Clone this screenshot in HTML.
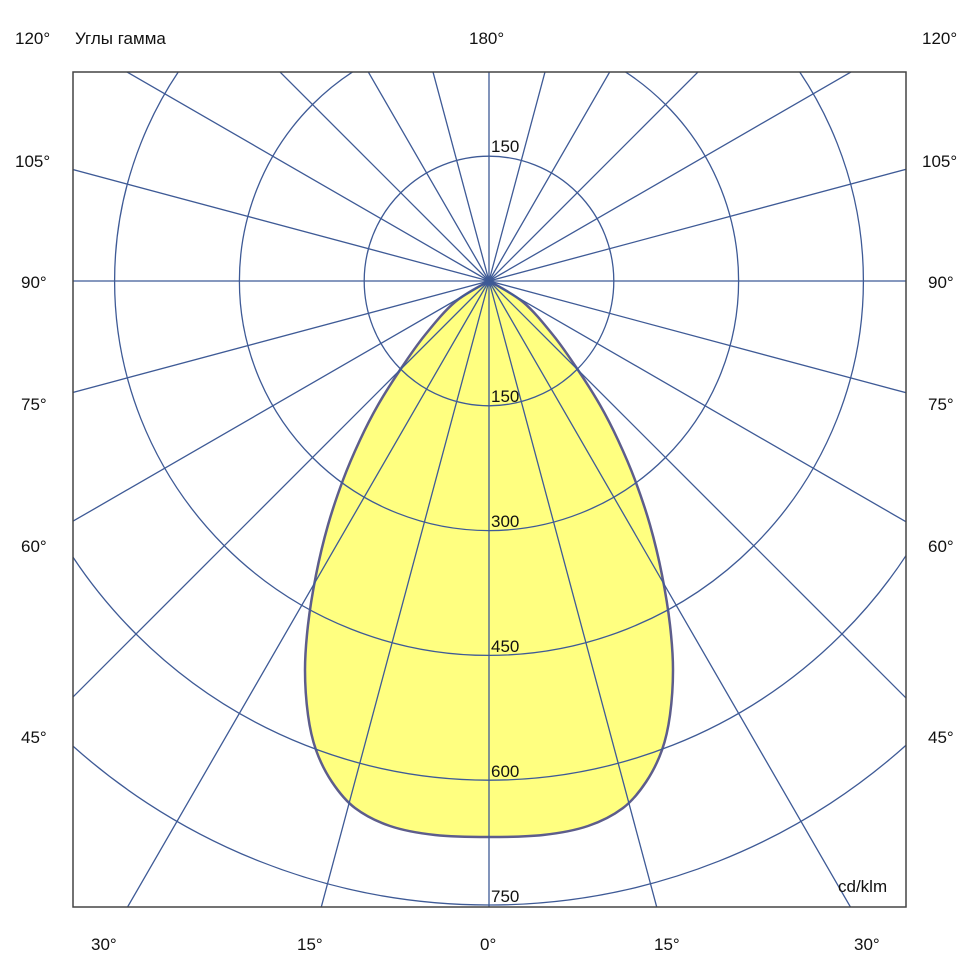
<!DOCTYPE html>
<html><head><meta charset="utf-8"><style>
html,body{margin:0;padding:0;background:#fff;overflow:hidden;width:980px;height:980px;}
svg{display:block;position:absolute;left:0;top:0;}
text{font-family:"Liberation Sans",Arial,sans-serif;font-size:17px;fill:#111;}
</style></head><body>
<svg width="980" height="980" viewBox="0 0 980 980" xmlns="http://www.w3.org/2000/svg">
<defs><clipPath id="c"><rect x="73" y="72" width="833" height="835"/></clipPath></defs>
<g clip-path="url(#c)">
<path id="shape" d="" fill="#ffff80" stroke="#5d5d8c" stroke-width="2.5"/>
<g fill="none" stroke="#3e5a96" stroke-width="1.3">
<circle cx="489" cy="281" r="124.8"/>
<circle cx="489" cy="281" r="249.6"/>
<circle cx="489" cy="281" r="374.4"/>
<circle cx="489" cy="281" r="499.2"/>
<circle cx="489" cy="281" r="624"/>
</g>
<g stroke="#3e5a96" stroke-width="1.3" id="rays"></g>
</g>
<rect x="73" y="72" width="833" height="835" fill="none" stroke="#444" stroke-width="1.5"/>
<text x="491" y="152">150</text>
<text x="491" y="402">150</text>
<text x="491" y="527">300</text>
<text x="491" y="652">450</text>
<text x="491" y="777">600</text>
<text x="491" y="902">750</text>
<text x="838" y="892">cd/klm</text>
<text x="15" y="44">120°</text>
<text x="75" y="44">Углы гамма</text>
<text x="469" y="44">180°</text>
<text x="922" y="44">120°</text>
<text x="15" y="167">105°</text><text x="922" y="167">105°</text>
<text x="21" y="288">90°</text><text x="928" y="288">90°</text>
<text x="21" y="410">75°</text><text x="928" y="410">75°</text>
<text x="21" y="552">60°</text><text x="928" y="552">60°</text>
<text x="21" y="743">45°</text><text x="928" y="743">45°</text>
<text x="91" y="950">30°</text>
<text x="297" y="950">15°</text>
<text x="480" y="950">0°</text>
<text x="654" y="950">15°</text>
<text x="854" y="950">30°</text>
</svg>
<script>
var g=document.getElementById('rays'),s='';
for(var a=0;a<360;a+=15){var r=a*Math.PI/180,x=489+1400*Math.sin(r),y=281+1400*Math.cos(r);
s+='<line x1="489" y1="281" x2="'+x.toFixed(1)+'" y2="'+y.toFixed(1)+'"/>';}
g.innerHTML=s;
var L=[[489,281],[455,302],[425,335],[400,370],[378,405],[360,440],[343,480],[328,525],[316,575],[308,625],[305,670],[308,715],[316,750],[332,782],[355,808],[390,826],[435,835],[489,837]];
var P=L.slice();
for(var i=L.length-2;i>=0;i--)P.push([978-L[i][0],L[i][1]]);
var n=P.length-1,d='M'+P[0][0]+','+P[0][1];
for(var i=0;i<n;i++){
 var p0=P[Math.max(i-1,0)],p1=P[i],p2=P[i+1],p3=P[Math.min(i+2,n)];
 var c1x=p1[0]+(p2[0]-p0[0])/6,c1y=p1[1]+(p2[1]-p0[1])/6,c2x=p2[0]-(p3[0]-p1[0])/6,c2y=p2[1]-(p3[1]-p1[1])/6;
 d+=' C'+c1x.toFixed(1)+','+c1y.toFixed(1)+' '+c2x.toFixed(1)+','+c2y.toFixed(1)+' '+p2[0]+','+p2[1];
}
document.getElementById('shape').setAttribute('d',d+'Z');
</script>
</body></html>
